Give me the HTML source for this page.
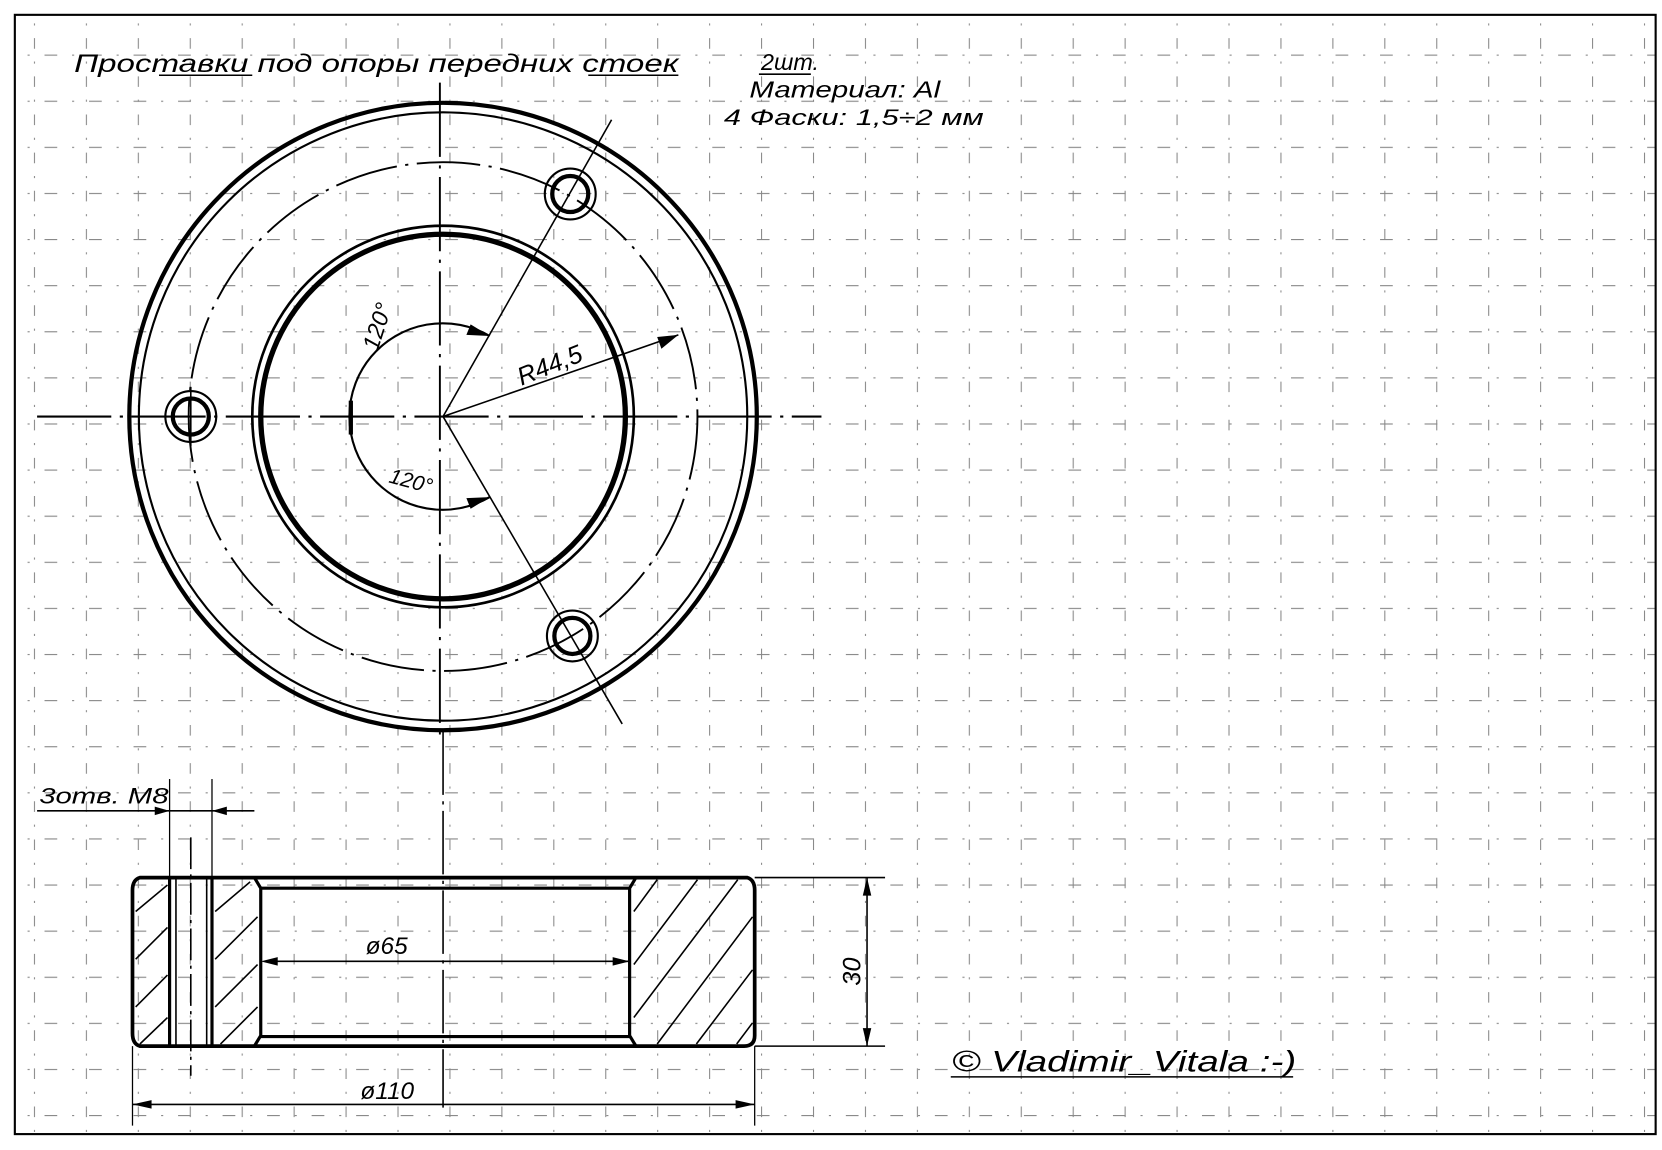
<!DOCTYPE html>
<html><head><meta charset="utf-8"><style>
html,body{margin:0;padding:0;background:#fff;}
svg{display:block;}
text{font-family:"Liberation Sans","DejaVu Sans",sans-serif;font-style:italic;fill:#000;}
</style></head><body>
<svg width="1662" height="1150" viewBox="0 0 1568 1085" preserveAspectRatio="none" xmlns="http://www.w3.org/2000/svg">
<defs>
<pattern id="gv" x="32" y="0" width="49" height="1085" patternUnits="userSpaceOnUse">
<line x1="0.5" y1="0" x2="0.5" y2="1085" stroke="#888" stroke-width="1" stroke-dasharray="10 12 2 12"/>
</pattern>
<pattern id="gh" x="0" y="8" width="1568" height="43.5" patternUnits="userSpaceOnUse">
<line x1="0" y1="0.5" x2="1568" y2="0.5" stroke="#888" stroke-width="1" stroke-dasharray="12 14 2 14"/>
</pattern>
</defs>
<rect width="1568" height="1085" fill="#fff"/>
<rect x="14" y="14" width="1548" height="1056" fill="url(#gv)"/>
<rect x="14" y="14" width="1548" height="1056" fill="url(#gh)"/>
<rect x="14" y="14" width="1548" height="1056" fill="none" stroke="#000" stroke-width="2"/>

<!-- title -->
<text x="70" y="68" font-size="24" textLength="570" lengthAdjust="spacingAndGlyphs">Проставки под опоры передних стоек</text>
<line x1="150" y1="71" x2="238" y2="71" stroke="#000" stroke-width="1.5"/>
<line x1="555" y1="71" x2="640" y2="71" stroke="#000" stroke-width="1.5"/>
<text x="718" y="66" font-size="22">2шт.</text>
<line x1="716" y1="70" x2="765" y2="70" stroke="#000" stroke-width="1.5"/>
<text x="707" y="92" font-size="22" textLength="180" lengthAdjust="spacingAndGlyphs">Материал: Al</text>
<text x="683" y="118" font-size="21" textLength="245" lengthAdjust="spacingAndGlyphs">4 Фаски: 1,5÷2 мм</text>

<!-- top view -->
<g fill="none" stroke="#000">
<circle cx="418" cy="393" r="296" stroke-width="4"/>
<circle cx="418" cy="393" r="287" stroke-width="2"/>
<circle cx="418" cy="393" r="240" stroke-width="1.8" stroke-dasharray="60 8 3 8"/>
<circle cx="418" cy="393" r="180" stroke-width="2.5"/>
<circle cx="418" cy="393" r="172" stroke-width="5"/>
<line x1="35" y1="393" x2="775" y2="393" stroke-width="2" stroke-dasharray="70 8 3 8"/>
<line x1="415" y1="78" x2="415" y2="700" stroke-width="1.8" stroke-dasharray="70 8 3 8"/>
<line x1="418" y1="393" x2="577" y2="113" stroke-width="1.5"/>
<line x1="418" y1="393" x2="587" y2="683" stroke-width="1.5"/>
<line x1="418" y1="393" x2="640" y2="316" stroke-width="1.5"/>
<path d="M462,317 A88,88 0 1 0 462,469" stroke-width="2"/>
<line x1="331" y1="378" x2="331" y2="410" stroke-width="4"/>
<circle cx="180" cy="393" r="24" stroke-width="2"/>
<circle cx="180" cy="393" r="17" stroke-width="4"/>
<circle cx="538" cy="183" r="24" stroke-width="2"/>
<circle cx="538" cy="183" r="17" stroke-width="4"/>
<circle cx="540" cy="600" r="24" stroke-width="2"/>
<circle cx="540" cy="600" r="17" stroke-width="4"/>
<line x1="180" y1="365" x2="180" y2="421" stroke-width="1.5"/>
</g>
<g fill="#000">
<polygon points="640,316 620,318 624,329"/>
<polygon points="462,317 444,306 440,316"/>
<polygon points="462,469 444,480 440,470"/>
</g>
<text x="0" y="0" font-size="24" transform="translate(492,364) rotate(-22)">R44,5</text>
<text x="0" y="0" font-size="22" transform="translate(356,332) rotate(-72)">120°</text>
<text x="0" y="0" font-size="20" transform="translate(366,455) rotate(15)">120°</text>

<!-- section -->
<g fill="none" stroke="#000">
<path d="M132,828 L705,828 Q712,830 712,840 L712,977 Q712,987 702,987 L132,987 Q125,985 125,975 L125,840 Q125,830 132,828 Z" stroke-width="3.5"/>
<line x1="160" y1="828" x2="160" y2="987" stroke-width="3"/>
<line x1="200" y1="828" x2="200" y2="987" stroke-width="3"/>
<path d="M240,828 L246,838 L246,977 L240,987" stroke-width="3"/>
<path d="M600,828 L594,838 L594,977 L600,987" stroke-width="3"/>
<line x1="246" y1="838" x2="594" y2="838" stroke-width="3"/>
<line x1="246" y1="978" x2="594" y2="978" stroke-width="3"/>
<line x1="166" y1="828" x2="166" y2="987" stroke-width="1.5"/>
<line x1="195" y1="828" x2="195" y2="987" stroke-width="1.5"/>
<line x1="180" y1="790" x2="180" y2="1015" stroke-width="1.5" stroke-dasharray="30 5 3 5"/>
<line x1="418" y1="690" x2="418" y2="1045" stroke-width="1.5" stroke-dasharray="60 6 3 6"/>
<g stroke-width="1.5">
<line x1="128" y1="860" x2="158" y2="835"/><line x1="128" y1="905" x2="158" y2="875"/>
<line x1="128" y1="950" x2="158" y2="920"/><line x1="132" y1="985" x2="158" y2="960"/>
<line x1="203" y1="860" x2="236" y2="832"/><line x1="203" y1="905" x2="243" y2="865"/>
<line x1="203" y1="950" x2="243" y2="910"/><line x1="208" y1="985" x2="243" y2="950"/>
<line x1="598" y1="860" x2="620" y2="830"/><line x1="598" y1="910" x2="658" y2="830"/>
<line x1="598" y1="960" x2="696" y2="830"/><line x1="620" y1="985" x2="710" y2="865"/>
<line x1="657" y1="985" x2="710" y2="915"/><line x1="695" y1="985" x2="710" y2="965"/>
</g>
<line x1="160" y1="735" x2="160" y2="828" stroke-width="1.2"/>
<line x1="200" y1="735" x2="200" y2="828" stroke-width="1.2"/>
<line x1="35" y1="765" x2="240" y2="765" stroke-width="1.5"/>
<line x1="250" y1="907" x2="594" y2="907" stroke-width="1.5"/>
<line x1="712" y1="828" x2="835" y2="828" stroke-width="1.5"/>
<line x1="712" y1="987" x2="835" y2="987" stroke-width="1.5"/>
<line x1="818" y1="828" x2="818" y2="987" stroke-width="1.5"/>
<line x1="125" y1="987" x2="125" y2="1062" stroke-width="1.2"/>
<line x1="712" y1="987" x2="712" y2="1062" stroke-width="1.2"/>
<line x1="125" y1="1042" x2="712" y2="1042" stroke-width="1.5"/>
</g>
<g fill="#000">
<polygon points="160,765 146,761 146,769"/>
<polygon points="200,765 214,761 214,769"/>
<polygon points="246,907 262,903 262,911"/>
<polygon points="594,907 578,903 578,911"/>
<polygon points="818,828 814,845 822,845"/>
<polygon points="818,987 814,970 822,970"/>
<polygon points="125,1042 143,1038 143,1046"/>
<polygon points="712,1042 694,1038 694,1046"/>
</g>
<text x="37" y="758" font-size="21" textLength="122" lengthAdjust="spacingAndGlyphs">3отв. M8</text>
<text x="345" y="900" font-size="23">ø65</text>
<text x="0" y="0" font-size="24" transform="translate(812,930) rotate(-90)">30</text>
<text x="340" y="1037" font-size="23">ø110</text>
<text x="898" y="1011" font-size="28" textLength="325" lengthAdjust="spacingAndGlyphs">© Vladimir_Vitala :-)</text>
<line x1="897" y1="1016" x2="1220" y2="1016" stroke="#000" stroke-width="1.5"/>
</svg>
</body></html>
